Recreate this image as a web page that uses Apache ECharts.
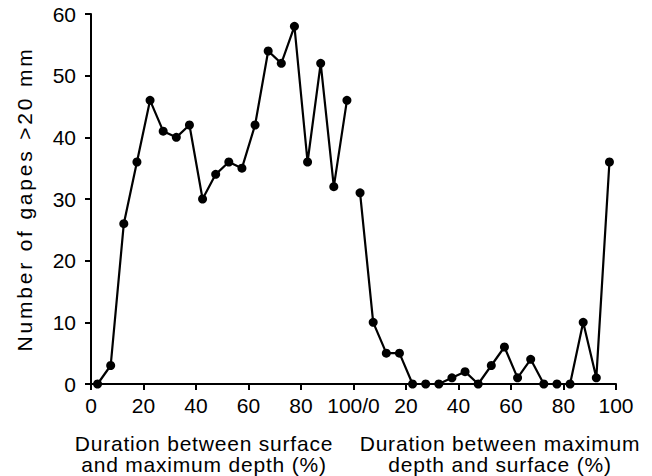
<!DOCTYPE html>
<html>
<head>
<meta charset="utf-8">
<script src="https://cdn.jsdelivr.net/npm/echarts@6/dist/echarts.min.js"></script>
<style>
  html, body { margin: 0; padding: 0; background: #fff; }
  #chart { width: 652px; height: 476px; }
</style>
</head>
<body>
<div id="chart"></div>
<script>
// Bin centres (%) within each phase of the dive
const binCentres = [2.5, 7.5, 12.5, 17.5, 22.5, 27.5, 32.5, 37.5, 42.5, 47.5,
                    52.5, 57.5, 62.5, 67.5, 72.5, 77.5, 82.5, 87.5, 92.5, 97.5];

// Gapes > 20 mm, descent phase (surface -> maximum depth)
const descentGapes = [0, 3, 26, 36, 46, 41, 40, 42, 30, 34,
                      36, 35, 42, 54, 52, 58, 36, 52, 32, 46];

// Gapes > 20 mm, ascent phase (maximum depth -> surface)
const ascentGapes = [31, 10, 5, 5, 0, 0, 0, 1, 2, 0,
                     3, 6, 1, 4, 0, 0, 0, 10, 1, 36];

// Labels for the combined 0-200 axis
const xTickLabels = ['0', '20', '40', '60', '80', '100/0', '20', '40', '60', '80', '100'];

const yTitle = 'Number of gapes >20 mm';
const xTitleDescent = 'Duration between surface\nand maximum depth (%)';
const xTitleAscent = 'Duration between maximum\ndepth and surface (%)';

const FONT = '"Liberation Sans", Arial, Helvetica, sans-serif';

const descentData = binCentres.map((x, i) => [x, descentGapes[i]]);
const ascentData = binCentres.map((x, i) => [x + 100, ascentGapes[i]]);

const chart = echarts.init(document.getElementById('chart'), null, { renderer: 'svg' });

const lineSeries = (data) => ({
  type: 'line',
  data: data,
  symbol: 'circle',
  symbolSize: 9,
  lineStyle: { color: '#000', width: 2.2 },
  itemStyle: { color: '#000' },
  animation: false
});

chart.setOption({
  animation: false,
  backgroundColor: '#fff',
  grid: { left: 91, right: 36, top: 14, bottom: 92, containLabel: false },
  xAxis: {
    type: 'value',
    min: 0,
    max: 200,
    interval: 20,
    splitLine: { show: false },
    axisLine: { lineStyle: { color: '#000', width: 2 } },
    axisTick: { show: true, length: 6, lineStyle: { color: '#000', width: 2 } },
    axisLabel: {
      color: '#000',
      fontFamily: FONT,
      fontSize: 21,
      margin: 11,
      formatter: (v) => xTickLabels[Math.round(v / 20)]
    }
  },
  yAxis: {
    type: 'value',
    min: 0,
    max: 60,
    interval: 10,
    name: yTitle,
    nameLocation: 'middle',
    nameGap: 56,
    nameTextStyle: { color: '#000', fontFamily: FONT, fontSize: 21 },
    splitLine: { show: false },
    axisLine: { show: true, lineStyle: { color: '#000', width: 2 } },
    axisTick: { show: true, length: 6, lineStyle: { color: '#000', width: 2 } },
    axisLabel: { color: '#000', fontFamily: FONT, fontSize: 21, margin: 15 }
  },
  graphic: [
    {
      type: 'text',
      x: 204, y: 433,
      style: {
        text: xTitleDescent, fill: '#000', font: '21px ' + FONT,
        textAlign: 'center', lineHeight: 21
      }
    },
    {
      type: 'text',
      x: 500, y: 433,
      style: {
        text: xTitleAscent, fill: '#000', font: '21px ' + FONT,
        textAlign: 'center', lineHeight: 21
      }
    }
  ],
  series: [lineSeries(descentData), lineSeries(ascentData)]
});

// Slightly open tracking on the axis titles
function spaceTitles() {
  document.querySelectorAll('#chart svg text, #chart svg tspan').forEach((el) => {
    const t = el.textContent || '';
    if (t.indexOf('Number of') === 0) {
      el.style.letterSpacing = '2.8px';
    } else if (t.indexOf('Duration') === 0 || t.indexOf('and maximum') === 0 || t.indexOf('depth and') === 0) {
      el.style.letterSpacing = '0.8px';
    }
  });
}
spaceTitles();
chart.on('finished', spaceTitles);
</script>
</body>
</html>
